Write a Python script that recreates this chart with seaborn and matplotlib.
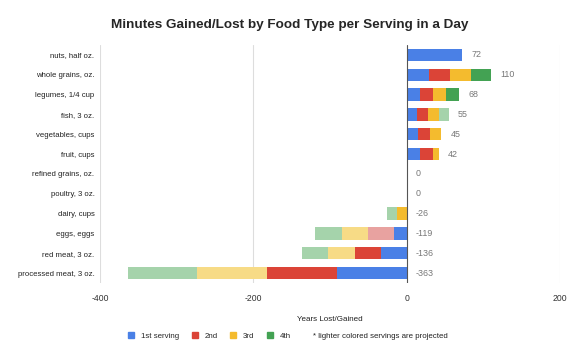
import numpy as np
import pandas as pd
import seaborn as sns
import matplotlib.pyplot as plt
from matplotlib.patches import Patch

foods = ["nuts, half oz.", "whole grains, oz.", "legumes, 1/4 cup", "fish, 3 oz.",
         "vegetables, cups", "fruit, cups", "refined grains, oz.", "poultry, 3 oz.",
         "dairy, cups", "eggs, eggs", "red meat, 3 oz.", "processed meat, 3 oz."]

# minutes per serving, one list per serving number
first = [72, 29, 17, 14, 15, 17, 0, 0, 0, -16, -34, -91]
second = [0, 27, 17, 14, 15, 17, 0, 0, 0, -34, -34, -91]
third = [0, 28, 17, 14, 15, 8, 0, 0, -13, -34, -34, -91]
fourth = [0, 26, 17, 13, 0, 0, 0, 0, -13, -35, -34, -90]
totals = [72, 110, 68, 55, 45, 42, 0, 0, -26, -119, -136, -363]

# which segments are projected (drawn lighter)
projected = {
    1: [],
    2: ["eggs, eggs"],
    3: ["eggs, eggs", "red meat, 3 oz.", "processed meat, 3 oz."],
    4: ["fish, 3 oz.", "dairy, cups", "eggs, eggs", "red meat, 3 oz.", "processed meat, 3 oz."],
}

colors = {1: "#4a80e6", 2: "#db4437", 3: "#f4bb2e", 4: "#43a253"}
light = {1: "#a8c4f2", 2: "#e8a2a0", 3: "#f7db86", 4: "#a5d3ab"}

df = pd.DataFrame({"food": foods, "s1": first, "s2": second, "s3": third, "s4": fourth})
cum = df[["s1", "s2", "s3", "s4"]].cumsum(axis=1)

sns.set_style("white")
plt.rcParams["font.family"] = ["Liberation Sans", "DejaVu Sans"]

fig = plt.figure(figsize=(5.79, 3.57), dpi=100)
ax = fig.add_axes([0.1727, 0.207, 0.7945, 0.667])

# draw widest cumulative first so shorter layers sit on top
for level in [4, 3, 2, 1]:
    n_before = len(ax.patches)
    sns.barplot(x=cum[f"s{level}"], y=df["food"], orient="h", color=colors[level],
                width=0.62, errorbar=None, saturation=1, ax=ax)
    for p, food in zip(ax.patches[n_before:], foods):
        p.set_edgecolor("none")
        if food in projected[level]:
            p.set_facecolor(light[level])

ax.set_xlim(-400, 200)
ax.set_xticks([-400, -200, 0, 200])
ax.set_xticklabels(["-400", "-200", "0", "200"])
for x in [-400, -200, 200]:
    ax.axvline(x, color="#dddddd", lw=0.8, zorder=0)
ax.axvline(0, color="#555555", lw=0.8, zorder=3)

for i, t in enumerate(totals):
    ax.text(max(t, 0) + 12, i, str(t), va="center", ha="left", fontsize=6.4, color="#777777")

for s in ax.spines.values():
    s.set_visible(False)
ax.tick_params(axis="both", length=0)
ax.tick_params(axis="y", pad=4, colors="#222222", labelsize=5.6)
ax.tick_params(axis="x", pad=8, colors="#333333", labelsize=6.2)
ax.set_ylabel("")
ax.set_xlabel("Years Lost/Gained", fontsize=5.8, color="#222222", labelpad=9)

fig.suptitle("Minutes Gained/Lost by Food Type per Serving in a Day",
             fontsize=9.7, fontweight="bold", x=0.5, y=0.948)

handles = [Patch(color=colors[k]) for k in [1, 2, 3, 4]]
fig.legend(handles, ["1st serving", "2nd", "3rd", "4th"], loc="center left",
           bbox_to_anchor=(0.209, 0.058), ncol=4, frameon=False, fontsize=5.7,
           handlelength=0.8, handleheight=0.8, handletextpad=0.8, columnspacing=1.6)
fig.text(0.541, 0.058, "* lighter colored servings are projected", fontsize=5.7,
         color="#222222", va="center", ha="left")

fig.savefig("out.png", dpi=100)
